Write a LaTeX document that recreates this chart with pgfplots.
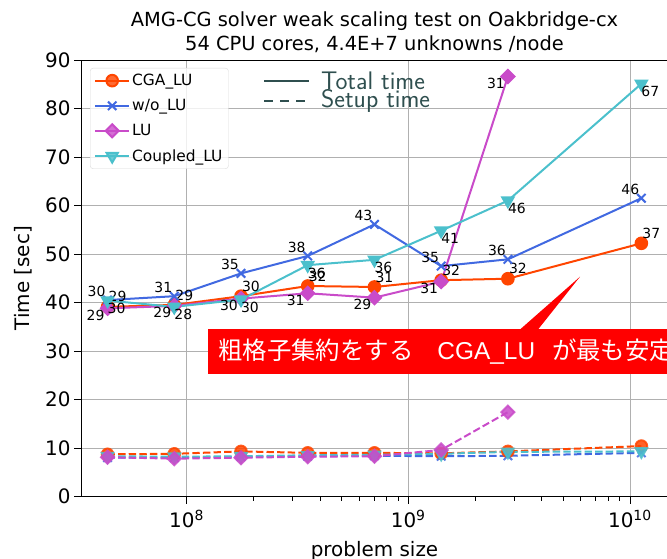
\documentclass[border=0pt]{standalone}
\usepackage{fontspec}
\setmainfont{DejaVu Sans}
\newfontfamily\cjk{Noto Sans CJK JP}
\newfontfamily\latin{Liberation Sans}
\usepackage{pgfplots}
\usepackage{pgfplotstable}
\pgfplotsset{compat=1.18}
\definecolor{cga}{HTML}{FF4500}
\definecolor{wo}{HTML}{4169E1}
\definecolor{lu}{HTML}{C94BC9}
\definecolor{cpl}{HTML}{4BC0CC}
\definecolor{slate}{HTML}{2F4F4F}

% x = problem size, t = total time, s = setup time, it = iterations
\pgfplotstableread{
x t s it
4.4e7 39.1 8.7 29
8.8e7 39.5 8.8 29
1.76e8 41.3 9.3 30
3.52e8 43.4 9.0 32
7.04e8 43.2 9.0 31
1.408e9 44.6 8.9 32
2.816e9 44.9 9.3 32
1.1264e10 52.2 10.4 37
}\cga
\pgfplotstableread{
x t s it
4.4e7 40.5 8.0 30
8.8e7 41.3 8.0 31
1.76e8 46.0 8.2 35
3.52e8 49.6 8.3 38
7.04e8 56.1 8.4 43
1.408e9 47.5 8.3 35
2.816e9 48.9 8.4 36
1.1264e10 61.5 9.0 46
}\wo
\pgfplotstableread{
x t s it
4.4e7 38.8 8.1 29
8.8e7 39.3 7.8 29
1.76e8 40.8 8.0 30
3.52e8 41.9 8.2 31
7.04e8 41.0 8.3 29
1.408e9 44.3 9.6 31
2.816e9 86.6 17.4 31
}\lu
\pgfplotstableread{
x t s it
4.4e7 40.4 8.3 30
8.8e7 39.1 8.2 28
1.76e8 40.6 8.3 30
3.52e8 47.7 8.5 36
7.04e8 48.8 8.6 36
1.408e9 54.8 8.8 41
2.816e9 61.0 9.2 46
1.1264e10 85.1 9.3 67
}\cpl

\begin{document}
\begin{tikzpicture}
\begin{axis}[
  at={(0,0)}, anchor=south west,
  scale only axis, width=587bp, height=436.5bp,
  xmode=log, xmin=3.34e7, xmax=1.486e10,
  ymin=0, ymax=90, ytick={0,10,...,90},
  xtick={1e8,1e9,1e10},
  xticklabels={10\textsuperscript{8},10\textsuperscript{9},10\textsuperscript{10}},
  grid=major, grid style={color=black!31, line width=0.8bp},
  tick align=outside, xtick pos=bottom, ytick pos=left,
  major tick length=7bp, minor tick length=4bp,
  tick style={black, line width=0.8bp},
  axis line style={line width=0.8bp},
  /pgf/number format/assume math mode=true,
  tick label style={font=\fontsize{20}{24}\selectfont},
  xticklabel style={yshift=-3bp},
  xlabel={problem size}, ylabel={Time [sec]},
  label style={font=\fontsize{20}{24}\selectfont},
  xlabel shift=6bp, ylabel shift=6bp,
  title={AMG-CG solver weak scaling test on Oakbridge-cx\\54 CPU cores, 4.4E+7 unknowns /node},
  title style={font=\fontsize{19.5}{24}\selectfont, align=center, yshift=-2bp},
  legend cell align=left,
  legend image code/.code={\draw[mark repeat=2,mark phase=2] plot coordinates {(0bp,0bp) (17bp,0bp) (34bp,0bp)};},
  legend style={at={(0.0153,0.9817)}, anchor=north west, draw=black!15, rounded corners=3bp,
    fill=white, fill opacity=0.8, text opacity=1, font=\fontsize{15.5}{18}\selectfont,
    row sep=8.3bp, inner sep=4bp, /tikz/every even column/.append style={column sep=6bp}},
  every axis plot/.append style={line width=2bp},
  lbl/.style={nodes near coords, point meta=explicit symbolic,
    nodes near coords style={text=black, font=\fontsize{14}{16}\selectfont, anchor=center, #1}},
]
\addplot[cga, mark=*, mark size=5.8bp, lbl={xshift=10bp, yshift=10bp}] table[x=x, y=t, meta=it]{\cga};
\addlegendentry{CGA\_LU}
\addplot[wo, mark=x, mark size=6bp, lbl={xshift=-11bp, yshift=9bp}] table[x=x, y=t, meta=it]{\wo};
\addlegendentry{w/o\_LU}
\addplot[lu, mark=square*, mark size=4.6bp, mark options={rotate=45}, lbl={xshift=-12bp, yshift=-7bp}] table[x=x, y=t, meta=it]{\lu};
\addlegendentry{LU}
\addplot[cpl, mark=triangle*, mark size=6.5bp, mark options={rotate=180}, lbl={xshift=9bp, yshift=-8bp}] table[x=x, y=t, meta=it]{\cpl};
\addlegendentry{Coupled\_LU}

\addplot[cga, dash pattern=on 7.4bp off 3.2bp, mark=*, mark size=5.8bp, mark options={solid, opacity=0.85}, forget plot] table[x=x, y=s]{\cga};
\addplot[wo, dash pattern=on 7.4bp off 3.2bp, mark=x, mark size=6bp, mark options={solid, opacity=0.85}, forget plot] table[x=x, y=s]{\wo};
\addplot[cpl, dash pattern=on 7.4bp off 3.2bp, mark=triangle*, mark size=6.5bp, mark options={solid, rotate=180, opacity=0.85}, forget plot] table[x=x, y=s]{\cpl};
\addplot[lu, dash pattern=on 7.4bp off 3.2bp, mark=square*, mark size=4.6bp, mark options={solid, rotate=45, opacity=0.85}, forget plot] table[x=x, y=s]{\lu};
\end{axis}
% second legend (line styles)
\draw[slate, line width=1.6bp] (183bp,415.5bp) -- (228bp,415.5bp);
\draw[slate, line width=1.6bp, dash pattern=on 8.7bp off 7.3bp] (183bp,395.5bp) -- (228bp,395.5bp);
\node[slate, anchor=west, font=\sffamily\fontsize{25.5}{28}\selectfont, inner sep=0pt] at (240bp,415.5bp) {Total time};
\node[slate, anchor=west, font=\sffamily\fontsize{25.5}{28}\selectfont, inner sep=0pt] at (240bp,395.5bp) {Setup time};
% annotation
\fill[red] (127bp,122.5bp) rectangle (720bp,167.5bp);
\fill[red] (439bp,167bp) -- (499bp,219.8bp) -- (457bp,167bp) -- cycle;
\node[white, anchor=west, inner sep=0pt, font=\cjk\fontsize{24.5}{28}\selectfont] at (137bp,145bp) {粗格子集約をする\hspace{24bp}{\latin\fontsize{24.5}{28}\selectfont CGA\_LU}\hspace{17bp}が最も安定};
\pgfresetboundingbox
\path[use as bounding box] (-81bp,-62.5bp) rectangle (586bp,496.5bp);
\end{tikzpicture}
\end{document}
